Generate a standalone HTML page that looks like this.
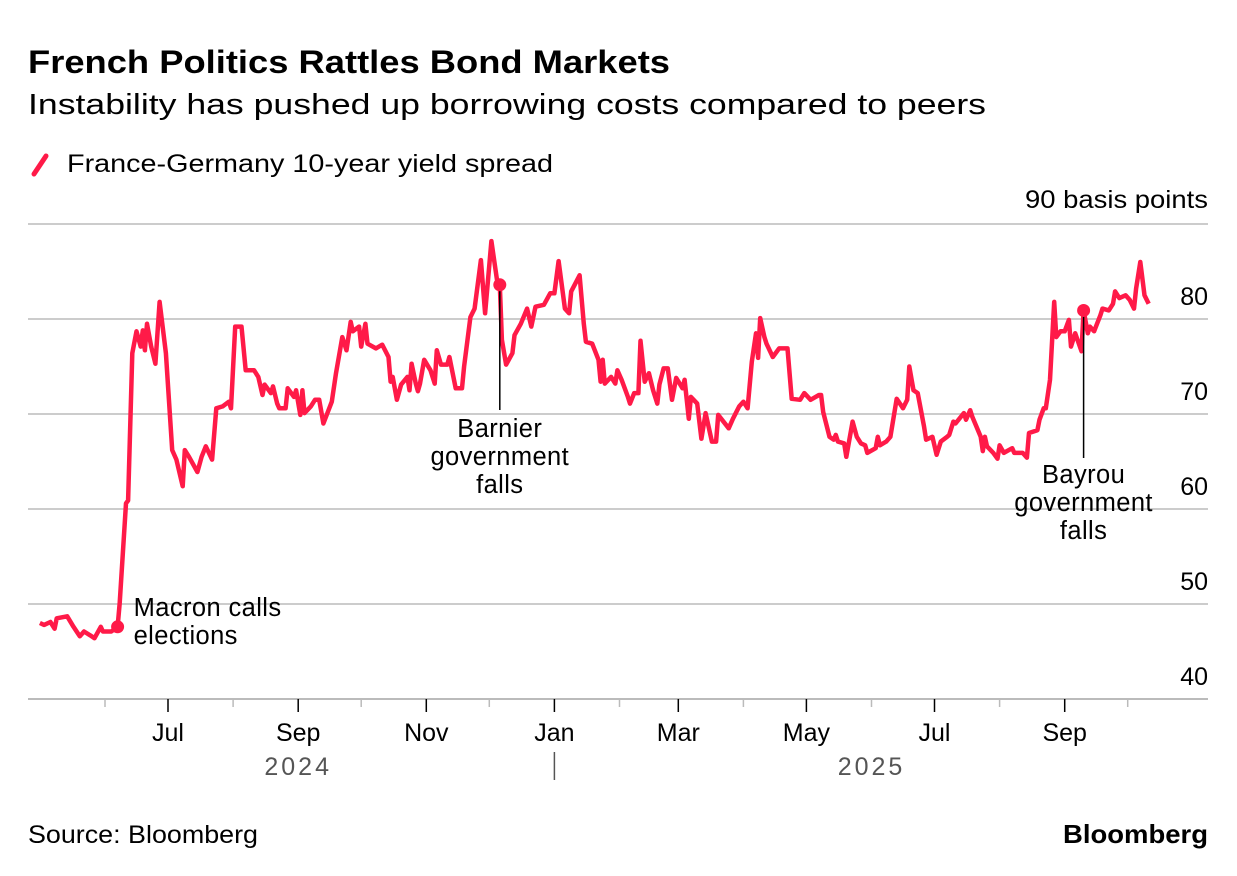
<!DOCTYPE html>
<html><head><meta charset="utf-8"><style>
body{margin:0;background:#fff;font-family:"Liberation Sans",sans-serif;}
svg{display:block}
</style></head><body>
<svg id="c" width="1237" height="876" xmlns="http://www.w3.org/2000/svg">
<text x="28" y="73" font-size="32" font-weight="bold" fill="#000" textLength="642" lengthAdjust="spacingAndGlyphs">French Politics Rattles Bond Markets</text>
<text x="28" y="114" font-size="29" fill="#000" textLength="958" lengthAdjust="spacingAndGlyphs">Instability has pushed up borrowing costs compared to peers</text>
<g>
<line x1="34" y1="174" x2="46" y2="156" stroke="#ff1a48" stroke-width="5" stroke-linecap="round"/>
<text x="67" y="172" font-size="25" fill="#000" textLength="486" lengthAdjust="spacingAndGlyphs">France-Germany 10-year yield spread</text>
</g>
<text x="1208" y="208" font-size="25" text-anchor="end" textLength="183" lengthAdjust="spacingAndGlyphs">90 basis points</text>
<g id="grid"></g><g id="xaxis"></g><g id="plot"></g><g id="ann"></g>
<text x="28" y="843" font-size="25" textLength="230" lengthAdjust="spacingAndGlyphs">Source: Bloomberg</text>
<text x="1208" y="843" font-size="26" font-weight="bold" text-anchor="end" textLength="145" lengthAdjust="spacingAndGlyphs">Bloomberg</text>
</svg>
<script>
// days since 2024-06-01
const days=[-31,-29,-26,-24,-23,-18,-15,-12,-10,-7,-5,-2,-1,3,6,7,10,11,13,15,17,18,19,20,22,24,26,29,32,34,37,38,40,44,46,48,51,53,56,59,60,62,65,67,71,73,75,76,79,80,82,83,86,87,90,91,93,94,95,98,100,102,104,108,110,113,115,117,118,121,122,124,125,129,132,135,136,137,139,141,144,145,146,148,149,150,152,155,157,158,160,163,164,167,170,171,174,176,179,181,184,187,188,189,191,194,195,198,201,203,205,209,212,214,216,219,221,222,226,228,229,232,235,236,237,238,241,243,244,246,249,250,252,254,255,257,259,261,263,264,266,268,270,272,275,276,278,279,282,284,286,289,291,292,297,299,302,304,306,308,310,311,312,314,315,318,321,325,327,331,333,336,340,341,342,345,347,348,349,352,353,356,358,360,362,363,367,368,369,372,374,377,380,382,383,385,387,390,391,394,396,398,401,402,404,405,409,410,412,413,417,418,419,420,423,425,426,428,432,433,437,439,440,444,445,447,448,450,452,453,455,457,459,460,462,465,466,468,469,471,474,475,478,480,481,483,486,488,490,491,493,495,497];
const spread=[48.0,47.8,48.1,47.4,48.5,48.7,47.6,46.6,47.1,46.7,46.4,47.6,47.1,47.1,47.6,50.1,60.6,60.9,76.4,78.7,77.1,78.8,76.7,79.5,77.1,75.3,81.8,76.4,66.2,65.2,62.4,66.2,65.5,63.9,65.5,66.6,65.2,70.6,70.8,71.3,70.6,79.2,79.2,74.6,74.6,73.9,72.0,73.1,72.2,72.9,71.1,70.6,70.6,72.7,71.8,72.5,69.9,72.5,70.1,70.8,71.5,71.5,69.0,71.3,74.3,78.1,76.7,79.7,78.7,79.2,77.1,79.5,77.4,76.9,77.3,76.0,73.4,73.9,71.5,73.1,73.9,72.5,75.3,73.2,72.4,73.2,75.7,74.6,73.2,76.7,75.2,75.2,76.0,72.7,72.7,75.0,80.2,81.1,86.2,80.6,88.2,83.6,83.6,77.8,75.2,76.4,78.3,79.5,81.1,79.2,81.3,81.5,82.7,82.7,86.1,81.1,80.6,82.9,84.6,79.5,77.6,77.4,75.7,73.4,75.7,73.2,73.9,73.2,74.6,73.6,71.8,71.1,72.2,72.2,77.7,73.4,74.3,72.5,71.1,73.1,74.8,74.8,71.5,73.8,72.7,73.6,69.5,71.8,71.1,67.4,70.1,67.1,67.1,69.9,68.5,69.5,70.8,71.3,70.6,75.5,78.5,75.9,80.1,78.1,77.4,76.0,76.9,76.9,71.6,71.5,72.2,71.5,72.0,72.0,70.2,67.6,67.3,67.8,67.1,66.9,65.5,69.2,67.6,66.9,66.7,65.9,66.4,67.6,66.7,67.1,67.6,71.6,70.6,71.5,75.0,72.5,72.2,68.7,67.3,67.6,65.7,67.1,67.6,67.8,69.2,69.0,70.1,69.4,70.4,69.7,67.6,66.1,67.6,66.6,65.9,65.3,66.7,65.9,66.4,65.9,65.9,65.4,68.0,68.3,69.4,70.6,70.6,73.6,81.8,78.1,78.7,78.7,79.9,77.1,78.5,76.6,80.9,78.5,79.2,78.7,80.4,81.1,80.9,81.6,82.9,82.2,82.5,82.0,81.1,83.2,86.0,82.5,81.6];
const yTicks=[40,50,60,70,80,90];
const yTickLabels=["40","50","60","70","80",""];
const monthDays=[0,30,61,92,122,153,183,214,245,273,304,334,365,395,426,457,487];
const monthLabels=["","Jul","","Sep","","Nov","","Jan","","Mar","","May","","Jul","","Sep",""];
const events=["Macron calls elections","Barnier government falls","Bayrou government falls"];
const eventDays=[6,188,466];
const eventValues=[47.6,83.6,80.9];

const NS="http://www.w3.org/2000/svg";
const X=d=>105+d*2.1;
const Y=v=>699-(v-40)*9.5;
function mk(tag,attrs,parent){const e=document.createElementNS(NS,tag);for(const k in attrs)e.setAttribute(k,attrs[k]);parent.appendChild(e);return e;}
const grid=document.getElementById('grid'),xa=document.getElementById('xaxis'),plot=document.getElementById('plot'),ann=document.getElementById('ann');
yTicks.forEach((t,i)=>{
  if(t>40){const l=mk('line',{x1:28,x2:1208,y1:Y(t),y2:Y(t),stroke:'#cccccc','stroke-width':2},grid);
  
  }
  if(yTickLabels[i]){const tx=mk('text',{x:1208,y:Y(t)-14,'font-size':25,'text-anchor':'end'},grid);tx.textContent=yTickLabels[i];
  
  }
});
const ax=mk('line',{x1:28,x2:1208,y1:699,y2:699,stroke:'#bbbbbb','stroke-width':2},xa);


monthDays.forEach((d,i)=>{
  const lab=monthLabels[i];
  const tk=mk('line',{x1:X(d),x2:X(d),y1:699,y2:lab?712:707,stroke:lab?'#000':'#bbbbbb','stroke-width':1.5},xa);
  
  
  if(lab){const t=mk('text',{x:X(d),y:741,'font-size':25,'text-anchor':'middle'},xa);t.textContent=lab;
  
  }
});
[[92,'2024'],[365,'2025']].forEach(([d,y])=>{
  const t=mk('text',{x:X(d),y:775,'font-size':25,'text-anchor':'middle',fill:'#555','letter-spacing':'3'},xa);t.textContent=y;
  
  
});
const ys=mk('line',{x1:X(214),x2:X(214),y1:752,y2:780,stroke:'#555','stroke-width':1.5},xa);


const p=mk('path',{d:days.map((d,i)=>(i?'L':'M')+X(d).toFixed(1)+','+Y(spread[i]).toFixed(1)).join(''),fill:'none',stroke:'#ff1a48','stroke-width':4.5,'stroke-linejoin':'round'},plot);


const anLines=[["Macron calls","elections"],["Barnier","government","falls"],["Bayrou","government","falls"]];
eventDays.forEach((d,i)=>{
  const cx=X(d),cy=Y(eventValues[i]);
  if(i>0){const l=mk('line',{x1:cx,x2:cx,y1:cy,y2:i==1?410:458,stroke:'#000','stroke-width':1.5},ann);
  
  }
  const c=mk('circle',{cx:cx,cy:cy,r:6.5,fill:'#ff1a48'},ann);
  
  
  const t=mk('text',{'font-size':25.5,'text-anchor':i==0?'start':'middle','letter-spacing':'0.4'},ann);
  
  
  const x0=i==0?cx+16:cx, y0=i==0?616:(i==1?437:483);
  anLines[i].forEach((s,j)=>{const ts=mk('tspan',{x:x0,y:y0+j*28},t);ts.textContent=s;});
});
</script>
</body></html>
